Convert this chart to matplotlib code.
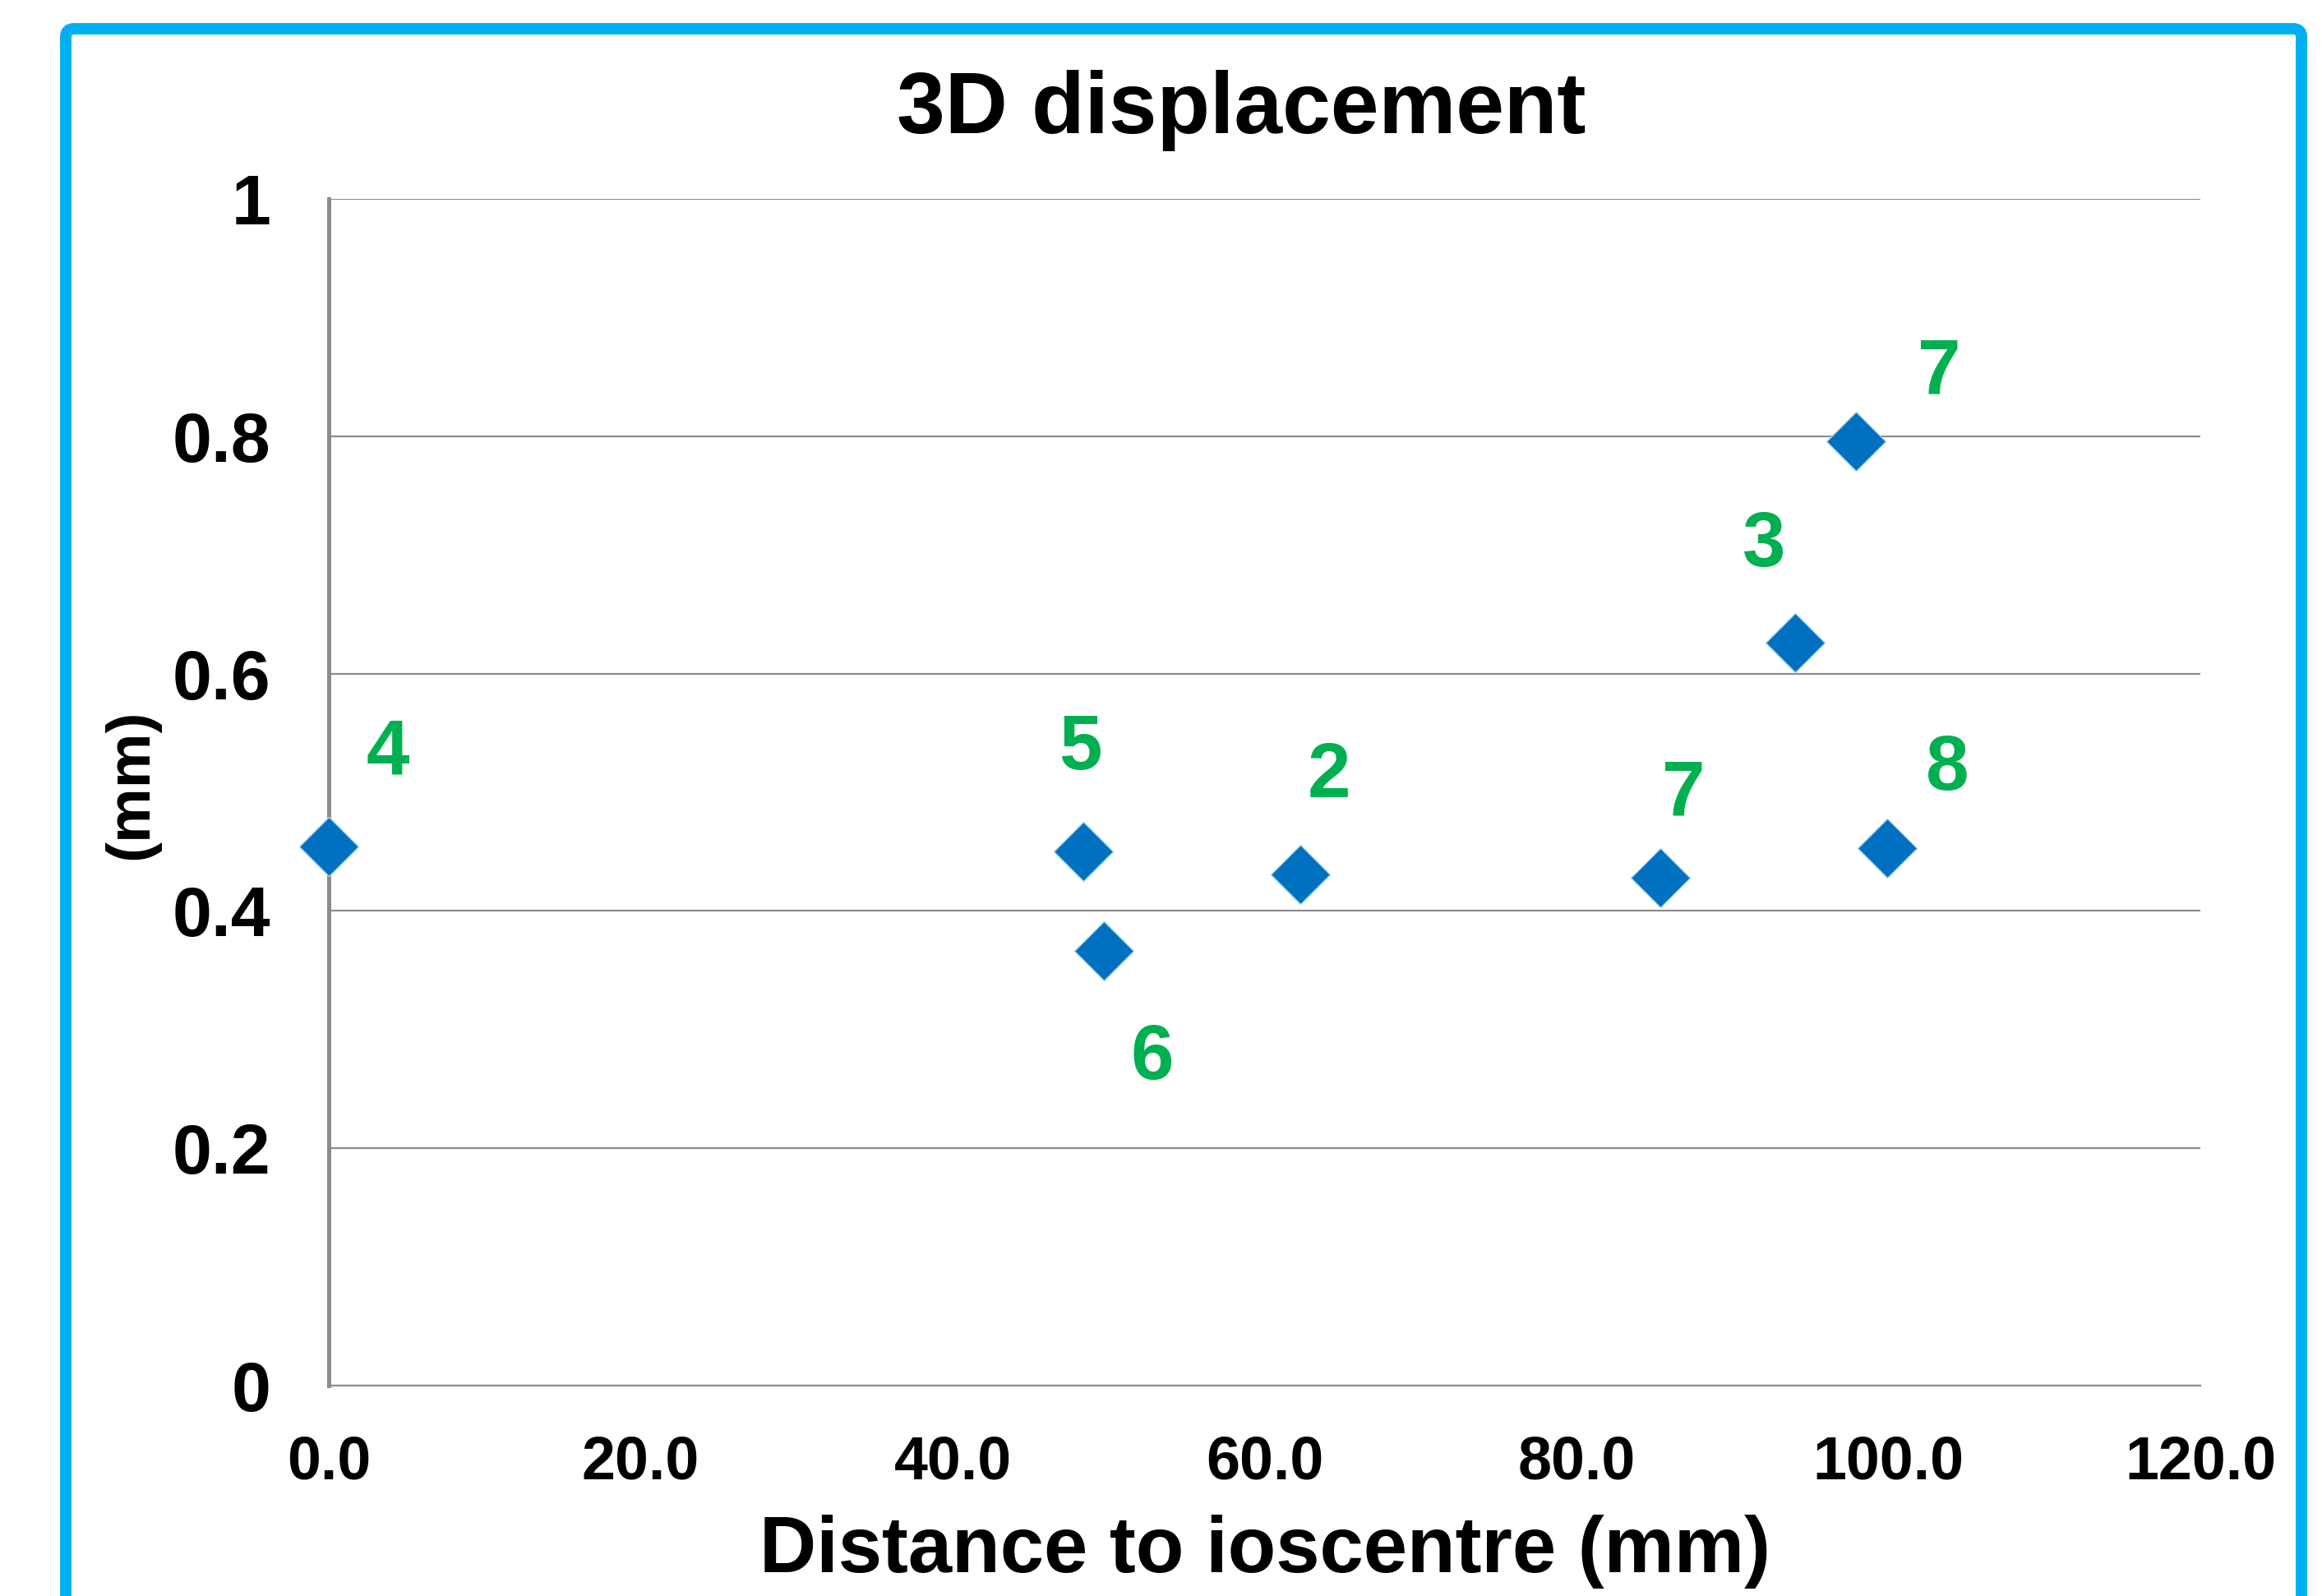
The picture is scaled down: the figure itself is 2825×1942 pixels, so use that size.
import matplotlib
matplotlib.use("Agg")
import matplotlib.pyplot as plt
from matplotlib.patches import FancyBboxPatch
from matplotlib.transforms import IdentityTransform

# data
dist = [0.0, 48.4, 49.7, 62.3, 85.4, 94.0, 97.9, 99.9]
disp = [0.454, 0.450, 0.366, 0.431, 0.428, 0.626, 0.796, 0.453]
labels = ["4", "5", "6", "2", "7", "3", "7", "8"]
# label offsets in points (x, y)
offsets = [(52, 82), (-3, 90), (42, -94), (25, 85), (20, 72), (-27, 85), (73, 59), (53, 69)]

xticks = [0, 20, 40, 60, 80, 100, 120]
xticklabels = ["0.0", "20.0", "40.0", "60.0", "80.0", "100.0", "120.0"]
yticks = [0, 0.2, 0.4, 0.6, 0.8, 1.0]
yticklabels = ["0", "0.2", "0.4", "0.6", "0.8", "1"]

plt.rcParams['font.family'] = ['Liberation Sans', 'DejaVu Sans']
plt.rcParams['font.weight'] = 'bold'

W, H = 2825, 1942
fig = plt.figure(figsize=(W / 100, H / 100), dpi=100)

# blue outline box (runs off the bottom edge)
box = FancyBboxPatch((80, -60), 2720, H - 35 + 60, boxstyle="round,pad=0,rounding_size=10",
                     transform=IdentityTransform(), fill=False, edgecolor="#00B0F0",
                     linewidth=10, zorder=0)
fig.patches.append(box)

ax = fig.add_axes([400 / W, 1 - 1686 / H, (2677 - 400) / W, (1686 - 242) / H])
ax.set_xlim(0, 120)
ax.set_ylim(0, 1)

ax.scatter(dist, disp, marker="D", s=36.7 ** 2, color="#0070C0",
           edgecolors="#A9D3EC", linewidths=1.0, zorder=3, clip_on=False)

for x, y, t, (dx, dy) in zip(dist, disp, labels, offsets):
    ax.annotate(t, (x, y), xytext=(dx, dy), textcoords="offset points",
                ha="center", va="center", color="#00B050", fontsize=68,
                fontweight="bold")

ax.set_yticks(yticks)
ax.set_yticklabels(yticklabels)
ax.set_xticks(xticks)
ax.set_xticklabels(xticklabels)
ax.tick_params(axis="y", length=0, pad=51, labelsize=62)
ax.tick_params(axis="x", length=0, pad=43, labelsize=53)

ax.grid(axis="y", color="#8C8C8C", linewidth=1.6)
ax.grid(axis="x", visible=False)
ax.set_axisbelow(True)
for s in ["top", "right"]:
    ax.spines[s].set_visible(False)
ax.spines["left"].set_color("#8C8C8C")
ax.spines["left"].set_linewidth(3.6)
ax.spines["bottom"].set_color("#8C8C8C")
ax.spines["bottom"].set_linewidth(1.6)

fig.text(1510 / W, 1 - 162 / H, "3D displacement", ha="center", va="baseline",
         fontsize=76, fontweight="bold")
fig.text(1539 / W, 1 - 1913 / H, "Distance to ioscentre (mm)", ha="center",
         va="baseline", fontsize=69, fontweight="bold")
fig.text(160 / W, 1 - 954 / H, "(mm)", ha="center", va="center", rotation=90,
         fontsize=54, fontweight="bold")

fig.savefig("out.png", dpi=100)
